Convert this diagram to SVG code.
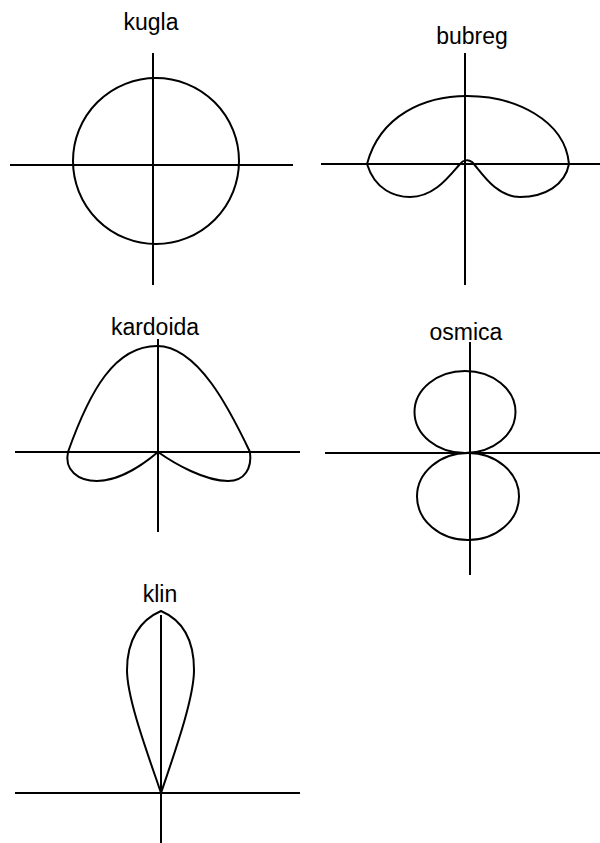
<svg xmlns="http://www.w3.org/2000/svg" width="600" height="843" viewBox="0 0 600 843">
<style>
.ax{stroke:#000;stroke-width:2;fill:none}
.cv{stroke:#000;stroke-width:2;fill:none;stroke-linejoin:round}
.t{font-family:"Liberation Sans",Arial,sans-serif;font-size:23px;fill:#000;text-anchor:middle}
</style>
<rect width="600" height="843" fill="#fff"/>
<g id="kugla">
<text class="t" x="151" y="30">kugla</text>
<line class="ax" x1="153" y1="53" x2="153" y2="285"/>
<line class="ax" x1="10" y1="165" x2="293" y2="165"/>
<circle class="cv" cx="156" cy="161" r="83"/>
</g>
<g id="bubreg">
<text class="t" x="472" y="44">bubreg</text>
<line class="ax" x1="465" y1="53" x2="465" y2="285"/>
<line class="ax" x1="321" y1="164" x2="600" y2="164"/>
<path class="cv" d="M367,164 C380,115 425,96 467,96 C515,96 565,120 569,164"/>
<path class="cv" d="M367,164 C375,190 395,197 410,197 C435,197 450,175 460,164 C463,160 468,159 472,162 C480,170 495,197 520,197 C545,197 565,185 569,164"/>
</g>
<g id="kardoida">
<text class="t" x="155" y="335">kardoida</text>
<line class="ax" x1="158" y1="339" x2="158" y2="532"/>
<line class="ax" x1="15" y1="452" x2="300" y2="452"/>
<path class="cv" d="M68,452 C90,390 115,346 157,346 C198,346 230,410 250,452"/>
<path class="cv" d="M68,452 C64,470 78,481 97,481 C120,481 145,463 158,452 C175,464 205,481 228,481 C245,481 252,468 250,452"/>
</g>
<g id="osmica">
<text class="t" x="466" y="340">osmica</text>
<line class="ax" x1="470" y1="342" x2="470" y2="575"/>
<line class="ax" x1="325" y1="453" x2="600" y2="453"/>
<ellipse class="cv" cx="465" cy="412" rx="50.5" ry="41"/>
<ellipse class="cv" cx="468" cy="496.5" rx="51" ry="43.5"/>
</g>
<g id="klin">
<text class="t" x="160" y="602">klin</text>
<line class="ax" x1="161" y1="615" x2="161" y2="843"/>
<line class="ax" x1="15" y1="793" x2="300" y2="793"/>
<path class="cv" d="M161,611 C140,620 127,640 127,670 C127,700 150,760 161,793 C172,760 194,700 194,670 C194,640 182,620 161,611 Z"/>
</g>
<g id="connectors"></g>
</svg>
